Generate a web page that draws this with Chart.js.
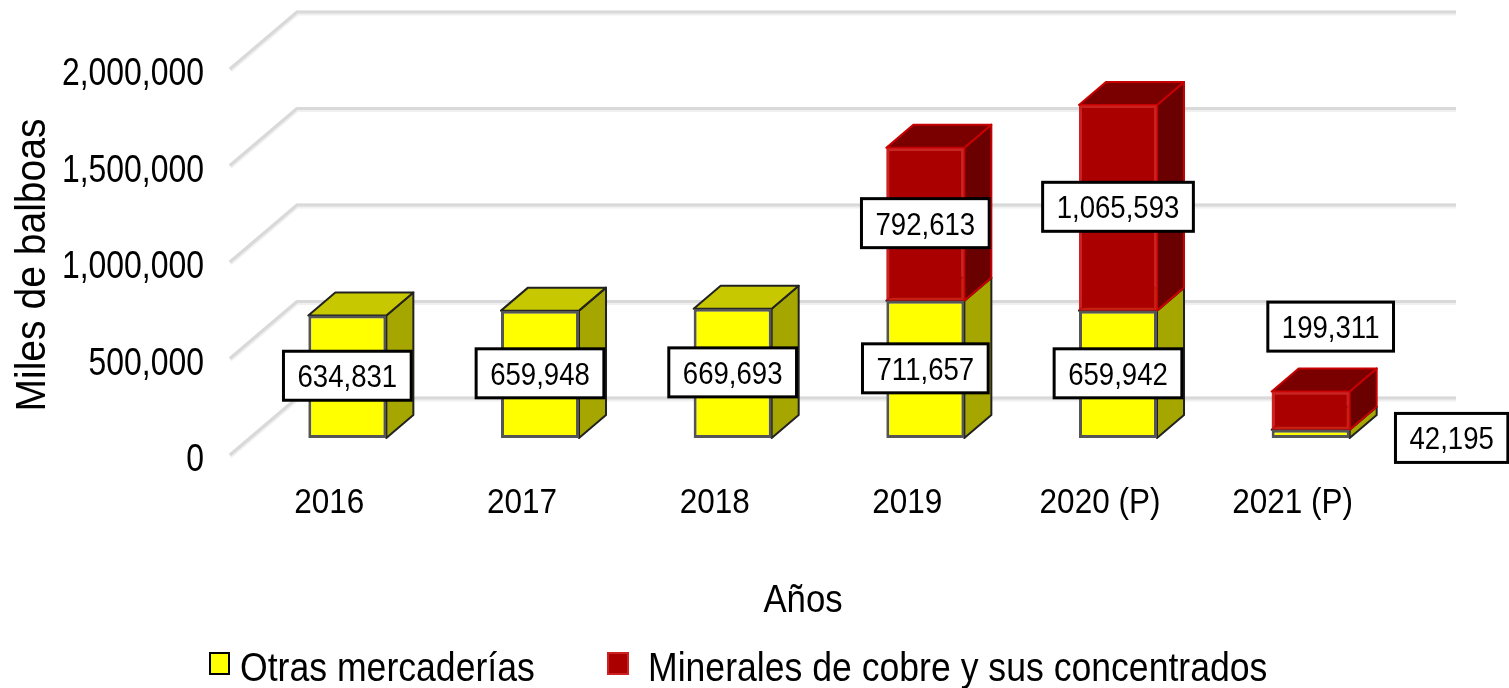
<!DOCTYPE html>
<html>
<head>
<meta charset="utf-8">
<title>Miles de balboas</title>
<script src="https://cdn.jsdelivr.net/npm/chart.js@4/dist/chart.umd.min.js"></script>
<style>
  html, body { margin: 0; background: #fff; }
  canvas { display: block; }
</style>
</head>
<body>
<canvas id="chart" width="1509" height="688"></canvas>
<script>
const categories = ["2016", "2017", "2018", "2019", "2020 (P)", "2021 (P)"];
const otrasValues = [634831, 659948, 669693, 711657, 659942, 42195];
const cobreValues = [null, null, null, 792613, 1065593, 199311];
const seriesNames = ["Otras mercaderías", "Minerales de cobre y sus concentrados"];

const FONT = '"Liberation Sans", Arial, sans-serif';

// bars sit further into the floor than the axis plane
const shift = { x: 18, y: -17 };
const depth = { x: 27, y: -23 };
const wall = { x: 67, y: -57 };

const faces = [
  { side: "#a6a600", top: "#c8c800", line: "#222", width: 2 },
  { side: "#6a0000", top: "#7a0000", line: "#c80000", width: 2 }
];

// labels that do not sit on their segment: [dataset]-[category]
const labelMoves = { "0-5": { x: 141, y: 5 }, "1-5": { x: 20, y: -83 } };

// the original text is tall and narrow, squeeze it per font size
const squeeze = {
  38: { sx: 0.84, dx: 0 },
  35: { sx: 0.9, dx: 0 },
  39: { sx: 0.89, dx: -8 },
  42: { sx: 0.93, dx: -3 },
  31: { sx: 0.89, dx: 0 },
  40: { sx: 0.89, dx: 0 }
};

function fmt(v) {
  return v.toLocaleString("en-US");
}

function poly(ctx, pts, fill, line, width) {
  ctx.beginPath();
  pts.forEach((p, i) => i ? ctx.lineTo(p[0], p[1]) : ctx.moveTo(p[0], p[1]));
  ctx.closePath();
  ctx.fillStyle = fill;
  ctx.fill();
  ctx.strokeStyle = line;
  ctx.lineWidth = width;
  ctx.stroke();
}

const bars3d = {
  id: "bars3d",
  beforeInit(chart) {
    const ctx = chart.ctx;
    const rawFill = ctx.fillText.bind(ctx);
    ctx.fillText = (text, x, y) => {
      const s = squeeze[parseInt(ctx.font.match(/(\d+)px/)[1])] || { sx: 1, dx: 0 };
      ctx.save();
      ctx.translate(x + s.dx, y);
      ctx.scale(s.sx, 1);
      rawFill(text, 0, 0);
      ctx.restore();
    };
  },
  beforeDatasetsDraw(chart) {
    const ctx = chart.ctx;
    const y = chart.scales.y;
    const left = chart.chartArea.left - 3, right = chart.chartArea.right;

    // walls
    ctx.save();
    y.ticks.forEach(t => {
      const py = y.getPixelForValue(t.value);
      [["#f0f0f0", 5, 1], ["#d9d9d9", 3, 0]].forEach(([color, width, off]) => {
        ctx.strokeStyle = color;
        ctx.lineWidth = width;
        ctx.beginPath();
        ctx.moveTo(left, py + off);
        ctx.lineTo(left + wall.x, py + wall.y + off);
        ctx.lineTo(right + wall.x, py + wall.y + off);
        ctx.stroke();
      });
    });
    ctx.restore();

    // side and top faces, lower segment first
    ctx.save();
    ctx.translate(shift.x, shift.y);
    ctx.lineJoin = "round";
    [0, 1].forEach(ds => {
      const f = faces[ds];
      chart.getDatasetMeta(ds).data.forEach((bar, i) => {
        if (chart.data.datasets[ds].data[i] == null) return;
        const xl = bar.x - bar.width / 2, xr = bar.x + bar.width / 2;
        const dx = depth.x, dy = depth.y;
        poly(ctx, [[xr, bar.y], [xr + dx, bar.y + dy], [xr + dx, bar.base + dy], [xr, bar.base]], f.side, f.line, f.width);
        poly(ctx, [[xl, bar.y], [xl + dx, bar.y + dy], [xr + dx, bar.y + dy], [xr, bar.y]], f.top, f.line, f.width);
      });
    });
    ctx.restore();

    // library draws the front faces in the shifted plane
    ctx.save();
    ctx.translate(shift.x, shift.y);
  },
  afterDatasetsDraw(chart) {
    const ctx = chart.ctx;
    // red goes over the yellow edge
    chart.getDatasetMeta(1).data.forEach((bar, i) => {
      if (cobreValues[i] != null) bar.draw(ctx);
    });
    ctx.restore();

    // value boxes
    ctx.save();
    ctx.font = "31px " + FONT;
    ctx.textAlign = "center";
    ctx.textBaseline = "middle";
    [0, 1].forEach(ds => {
      chart.getDatasetMeta(ds).data.forEach((bar, i) => {
        const v = chart.data.datasets[ds].data[i];
        if (v == null) return;
        const move = labelMoves[ds + "-" + i] || { x: 0, y: 0 };
        const cx = bar.x + shift.x + move.x;
        const cy = (bar.y + bar.base) / 2 + shift.y - 1 + move.y;
        const w = ctx.measureText(fmt(v)).width * squeeze[31].sx + 28;
        ctx.fillStyle = "#fff";
        ctx.strokeStyle = "#000";
        ctx.lineWidth = 3;
        ctx.fillRect(cx - w / 2, cy - 24.5, w, 49);
        ctx.strokeRect(cx - w / 2, cy - 24.5, w, 49);
        ctx.fillStyle = "#000";
        ctx.fillText(fmt(v), cx, cy + 3);
      });
    });
    ctx.restore();

    // legend
    ctx.save();
    ctx.font = "40px " + FONT;
    ctx.textBaseline = "middle";
    ctx.fillStyle = "#ffff00";
    ctx.strokeStyle = "#000";
    ctx.lineWidth = 2;
    ctx.fillRect(210, 653, 19, 21);
    ctx.strokeRect(210, 653, 19, 21);
    ctx.fillStyle = "#aa0000";
    ctx.strokeStyle = "#cc2222";
    ctx.fillRect(608, 653, 20, 21);
    ctx.strokeRect(608, 653, 20, 21);
    ctx.fillStyle = "#000";
    ctx.fillText(seriesNames[0], 240, 670);
    ctx.fillText(seriesNames[1], 648, 670);
    ctx.restore();
  }
};

new Chart(document.getElementById("chart"), {
  type: "bar",
  data: {
    labels: categories,
    datasets: [
      {
        label: seriesNames[0],
        data: otrasValues,
        backgroundColor: "#ffff00",
        borderColor: "#555",
        borderWidth: 3,
        borderSkipped: false,
        categoryPercentage: 1,
        barPercentage: 0.405
      },
      {
        label: seriesNames[1],
        data: cobreValues,
        backgroundColor: "#aa0000",
        borderColor: "rgba(200, 20, 20, 0.75)",
        borderWidth: 3,
        borderSkipped: false,
        categoryPercentage: 1,
        barPercentage: 0.405
      }
    ]
  },
  options: {
    responsive: false,
    animation: false,
    layout: { padding: { left: 0, top: 69, right: 120, bottom: 0 } },
    plugins: {
      legend: { display: false },
      tooltip: { enabled: false }
    },
    scales: {
      x: {
        stacked: true,
        grid: { display: false },
        border: { display: false },
        ticks: {
          color: "#000",
          maxRotation: 0,
          padding: 19,
          font: { family: FONT, size: 35 }
        },
        title: {
          display: true,
          text: "Años",
          color: "#000",
          padding: { top: 0, bottom: 63 },
          font: { family: FONT, size: 39 }
        },
        afterFit(scale) { scale.height = 233; }
      },
      y: {
        stacked: true,
        min: 0,
        max: 2000000,
        grid: { display: false, drawTicks: false },
        border: { display: false },
        ticks: {
          stepSize: 500000,
          color: "#000",
          padding: 29,
          labelOffset: 6,
          font: { family: FONT, size: 38 },
          callback: v => fmt(v)
        },
        title: {
          display: true,
          text: "Miles de balboas",
          color: "#000",
          padding: { top: 8, bottom: 0 },
          font: { family: FONT, size: 42 }
        },
        afterFit(scale) { scale.width = 233; }
      }
    }
  },
  plugins: [bars3d]
});
</script>
</body>
</html>
